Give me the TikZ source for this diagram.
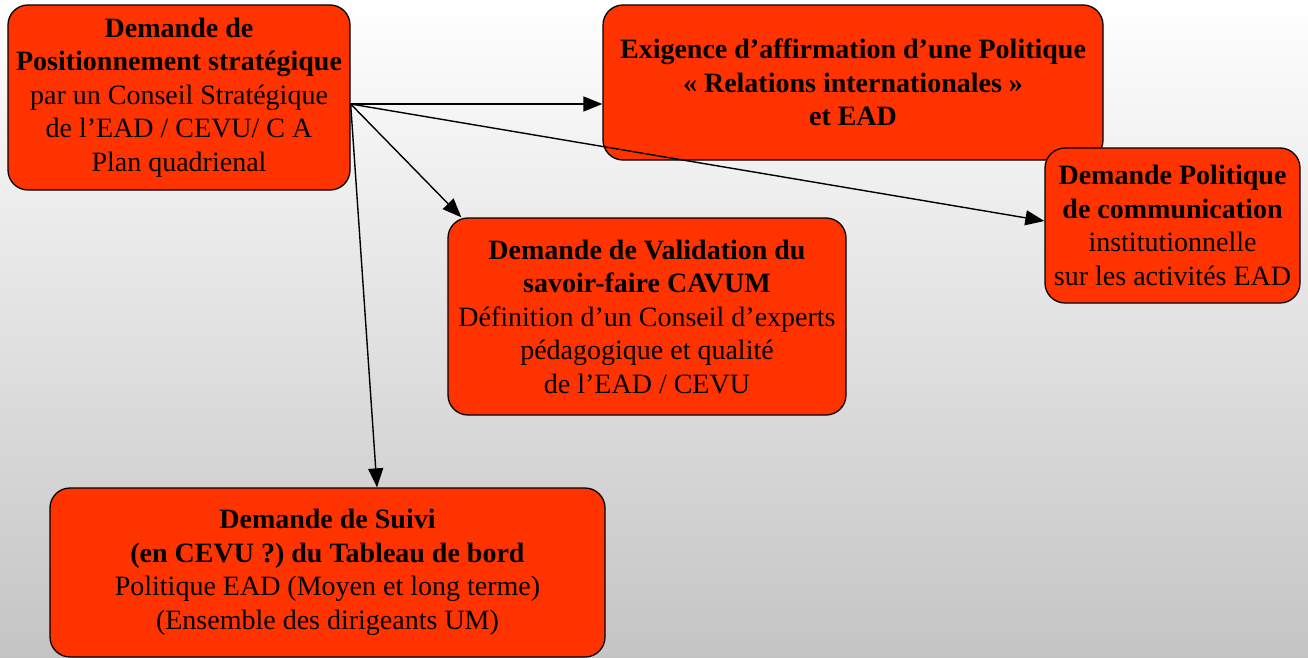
\documentclass[tikz,border=0pt]{standalone}
\usepackage{fontspec}
\setmainfont{Liberation Serif}
\usetikzlibrary{arrows.meta}
\definecolor{boxred}{RGB}{255,51,0}
\definecolor{bgbottom}{RGB}{196,196,196}
\tikzset{
  box/.style={draw=black, line width=1.3pt, fill=boxred, rounded corners=20pt,
    align=center, inner sep=0pt, font=\fontsize{28}{33.5}\selectfont},
  conn/.style={line width=1.4pt, -{Triangle[length=19pt,width=15pt]}}
}
\begin{document}
\begin{tikzpicture}[x=1pt,y=-1pt]
\shade[top color=white, bottom color=bgbottom] (0,0) rectangle (1308,658);
\useasboundingbox (0,0) rectangle (1308,658);
\node[box, minimum width=342pt, minimum height=185pt] (A) at (179,97.5)
  {\textbf{Demande de}\\\textbf{Positionnement stratégique}\\par un Conseil Stratégique\\de l’EAD / CEVU/ C A\\Plan quadrienal};
\node[box, minimum width=500pt, minimum height=155pt] (B) at (853,82.5)
  {\textbf{Exigence d’affirmation d’une Politique}\\\textbf{« Relations internationales »}\\\textbf{et EAD}};
\node[box, minimum width=255pt, minimum height=155pt] (C) at (1172.5,225.5)
  {\textbf{Demande Politique}\\\textbf{de communication}\\institutionnelle\\sur les activités EAD};
\node[box, minimum width=398pt, minimum height=197pt] (D) at (647,316.5)
  {\textbf{Demande de Validation du}\\\textbf{savoir-faire CAVUM}\\Définition d’un Conseil d’experts\\pédagogique et qualité\\de l’EAD / CEVU};
\node[box, minimum width=555pt, minimum height=169pt] (E) at (327.5,572.5)
  {\textbf{Demande de Suivi}\\\textbf{(en CEVU ?) du Tableau de bord}\\Politique EAD (Moyen et long terme)\\(Ensemble des dirigeants UM)};
\coordinate (o) at ([yshift=-6.5pt]A.east);
\draw[conn] (o) -- (B.west |- o);
\draw[conn] (o) -- ([yshift=4.5pt]C.west);
\draw[conn] (o) -- ([xshift=14pt]D.north west);
\draw[conn] (o) -- ([xshift=49.5pt]E.north);
\end{tikzpicture}
\end{document}
